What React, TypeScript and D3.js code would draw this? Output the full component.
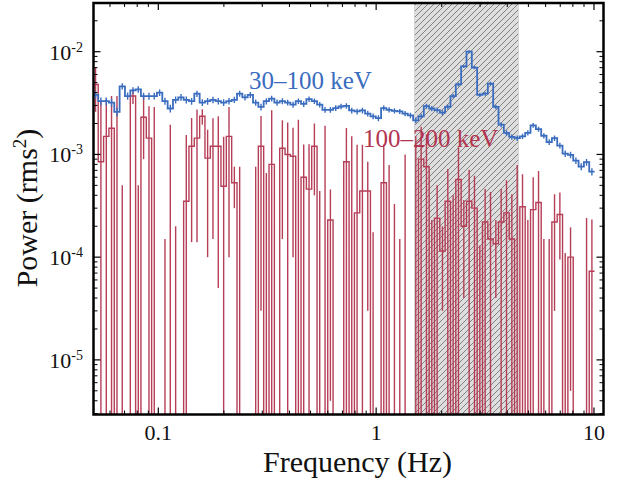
import React from 'react';
import * as d3 from 'd3';

// Frequency bin centres (Hz)
const freq = [
  0.0515, 0.0545, 0.0577, 0.0610, 0.0646, 0.0683, 0.0723, 0.0765, 0.0809, 0.0856,
  0.0906, 0.0958, 0.1014, 0.1073, 0.1135, 0.1201, 0.1271, 0.1344, 0.1422, 0.1505,
  0.1592, 0.1684, 0.1782, 0.1885, 0.1995, 0.2111, 0.2234, 0.2363, 0.2500, 0.2645,
  0.2799, 0.2961, 0.3133, 0.3315, 0.3508, 0.3711, 0.3926, 0.4154, 0.4395, 0.4650,
  0.4920, 0.5206, 0.5508, 0.5827, 0.6166, 0.6523, 0.6902, 0.7302, 0.7727, 0.8175,
  0.8650, 0.9152, 0.9683, 1.0245, 1.0839, 1.1468, 1.2134, 1.2838, 1.3583, 1.4372,
  1.5205, 1.6088, 1.7022, 1.8009, 1.9055, 2.0160, 2.1330, 2.2569, 2.3878, 2.5264,
  2.6730, 2.8281, 2.9923, 3.1659, 3.3497, 3.5441, 3.7497, 3.9674, 4.1976, 4.4413,
  4.6989, 4.9717, 5.2602, 5.5654, 5.8884, 6.2301, 6.5917, 6.9743, 7.3790, 7.8073,
  8.2604, 8.7398, 9.2470, 9.7837,
];

// 30–100 keV power (units of 1e-3 rms^2)
const blue = [
  3.8, 3.3, 3.3, 3.2, 2.6, 4.6, 3.7, 4.2, 4.3, 3.7,
  3.7, 3.7, 4.0, 3.3, 2.8, 3.4, 3.6, 3.4, 3.3, 3.9,
  3.2, 3.3, 3.4, 3.3, 3.2, 3.3, 3.4, 3.9, 3.6, 3.8,
  3.2, 2.9, 3.3, 3.5, 3.2, 3.3, 3.2, 3.05, 3.3, 3.1,
  3.45, 3.3, 3.05, 2.72, 2.72, 2.83, 2.93, 2.97, 2.68, 2.62,
  2.68, 2.5, 2.35, 2.26, 2.83, 2.72, 2.66, 2.62, 2.5, 2.4,
  2.15, 2.35, 2.95, 2.8, 2.7, 2.55, 2.9, 3.7, 4.8, 7.2,
  10.0, 7.0, 3.8, 3.9, 4.9, 2.9, 1.95, 1.62, 1.48, 1.44,
  1.5, 1.62, 1.92, 1.76, 1.52, 1.32, 1.44, 1.22, 1.02, 0.99,
  0.87, 0.76, 0.84, 0.68,
];

// 30–100 keV errors (units of 1e-4)
const blueErr = [
  3.0, 2.8, 2.8, 2.8, 2.6, 3.2, 3.0, 3.1, 3.1, 2.9,
  2.9, 2.8, 2.9, 2.6, 2.4, 2.6, 2.7, 2.6, 2.5, 2.7,
  2.4, 2.5, 2.5, 2.4, 2.4, 2.4, 2.4, 2.6, 2.5, 2.5,
  2.3, 2.2, 2.3, 2.3, 2.2, 2.2, 2.1, 2.0, 2.1, 2.0,
  2.1, 2.0, 1.9, 1.8, 1.8, 1.8, 1.8, 1.8, 1.7, 1.7,
  1.7, 1.6, 1.5, 1.5, 1.7, 1.6, 1.6, 1.5, 1.5, 1.5,
  1.4, 1.4, 1.6, 1.6, 1.6, 1.5, 1.6, 1.8, 2.1, 2.6,
  3.2, 2.5, 1.8, 1.8, 2.0, 1.5, 1.1, 1.0, 0.9, 0.9,
  0.9, 0.95, 1.0, 0.95, 0.9, 0.85, 0.85, 0.8, 0.75, 0.7,
  0.65, 0.6, 0.62, 0.55,
];

// 100–200 keV power (units of 1e-4 rms^2, may be negative)
const red = [
  48, 8.5, 15, 18, -4, -12, -20, 37, -15, 23,
  14.4, -6, -30, -20, -10, -25, -15, 3.5, 12, 14.4,
  23.5, 9.2, 12, 12, 4.9, 15, 5.3, -10, -20, -8,
  -12, 12, -10, 8, -20, 11.5, 10, 9.6, -10, 6,
  4.6, 12, -6, -8, 2.3, -20, -5, 8.5, -5, 2.7,
  4.4, 4.4, -15, -20, 5.3, -8, -10, -15, -10, -5,
  -5, 9, 7.6, -3, 2.4, 1.15, 3.5, -2, 5.7, 2.0,
  3.5, 3.0, -3, 2.2, 1.5, 1.35, 2.2, 2.7, 1.5, -1,
  3.1, -1, 2.9, 3.4, -3, -2, 2.2, 2.6, -3, 1.0,
  -4, -3, -1, 0.73,
];

// 100–200 keV errors (units of 1e-4)
const redErr = [
  22, 24, 20, 19, 41, 17, 10, 6, 20, 14,
  15, 35, 10, 21.5, 29.4, 27, 10, 12, 10.6, 13,
  4, 8.2, 10.5, 11.5, 10, 14, 2.3, 17.6, 5, 5,
  19.6, 11.7, 16.6, 19, 5, 10, 10.5, 8.6, 31.8, 6.5,
  8, 8, 10.4, 27, 2.26, 5, 5, 9.6, 20, 9.7,
  8, 4.1, 16.75, 5, 7.2, 15.9, 13.3, 16.5, 20, 5,
  20, 9.6, 8, 5.3, 2.6, 0.85, 3.7, 6, 5.9, 1.6,
  3.6, 3.2, 4.3, 2.4, 2.8, 0.95, 2.4, 2.9, 2.6, 8.9,
  3.3, 3.3, 3.1, 3.5, 4.5, 3.5, 1.9, 1.65, 4.1, 0.95,
  2, 2, 3.4, 1.6,
];

const band = [1.5, 4.5];
const xTickLabels = ['0.1', '1', '10'];
const yTickExps = ['-2', '-3', '-4', '-5'];

const W = 618, H = 478;
const L = 93.5, R = 603.5, T = 3, B = 414.5;
const FONT = '"Liberation Serif", "Times New Roman", serif';
const BLUE = '#3a6cc0';
const RED = '#b3344f';

function edgesOf(c: number[]) {
  const n = c.length;
  const e: number[] = [];
  e.push(c[0] / Math.sqrt(c[1] / c[0]));
  for (let i = 1; i < n; i++) e.push(Math.sqrt(c[i - 1] * c[i]));
  e.push(c[n - 1] * Math.sqrt(c[n - 1] / c[n - 2]));
  return e;
}

export default function App() {
  const x = d3.scaleLog().domain([0.0504, 11.06]).range([L, R]);
  const y = d3.scaleLog().domain([2.94e-6, 0.0298]).range([B, T]);
  const edges = edgesOf(freq);
  const off = B + 60;
  const yy = (v: number) => (v > 0 ? y(v) : off);

  const stepPath = (vals: number[]) => {
    let d = `M${x(edges[0])},${yy(vals[0])}`;
    for (let i = 0; i < vals.length; i++) {
      d += `H${x(edges[i + 1])}`;
      if (i < vals.length - 1) d += `V${yy(vals[i + 1])}`;
    }
    return d;
  };

  const blueV = blue.map((v) => v * 1e-3);
  const blueE = blueErr.map((v) => v * 1e-4);
  const redV = red.map((v) => v * 1e-4);
  const redE = redErr.map((v) => v * 1e-4);

  const xt = x.ticks();
  const xMajor = [0.1, 1, 10];
  const xMinor = xt.filter((t) => !xMajor.some((m) => Math.abs(m - t) < 1e-9));
  const yt = y.ticks();
  const yMajor = [1e-2, 1e-3, 1e-4, 1e-5];
  const yMinor = yt.filter((t) => !yMajor.some((m) => Math.abs(m - t) / m < 1e-6));

  return (
    <svg width={W} height={H} style={{ position: 'absolute', left: 0, top: 0, background: '#fff' }}
      fontFamily={FONT}>
      <defs>
        <clipPath id="plot">
          <rect x={L} y={T} width={R - L} height={B - T} />
        </clipPath>
        <pattern id="hatch" patternUnits="userSpaceOnUse" width={6} height={6}>
          <rect width={6} height={6} fill="#dedede" />
          <path d="M-1,1 l2,-2 M0,6 l6,-6 M5,7 l2,-2" stroke="#6a6a6a" strokeWidth={0.8} />
        </pattern>
      </defs>
      <rect x={0} y={0} width={W} height={H} fill="#fff" />
      <rect x={x(band[0])} y={T} width={x(band[1]) - x(band[0])} height={B - T}
        fill="url(#hatch)" stroke="#cfcfcf" strokeWidth={0.8} />

      <g clipPath="url(#plot)">
        <g stroke={RED} strokeWidth={1.4} fill="none" opacity={0.95}>
          <path d={stepPath(redV)} />
          {redV.map((v, i) => {
            const hi = v + redE[i];
            if (hi <= 0) return null;
            const lo = v - redE[i];
            const cx = x(freq[i]);
            return <line key={i} x1={cx} x2={cx} y1={yy(lo)} y2={y(hi)} />;
          })}
        </g>
        <g stroke={BLUE} strokeWidth={1.8} fill="none">
          <path d={stepPath(blueV)} />
          {blueV.map((v, i) => {
            const cx = x(freq[i]);
            return <line key={i} x1={cx} x2={cx} y1={y(v - blueE[i])} y2={y(v + blueE[i])} strokeWidth={1.4} />;
          })}
        </g>
      </g>

      {/* ticks */}
      <g stroke="#000">
        {xMajor.map((t) => (
          <g key={'xM' + t} strokeWidth={1.2}>
            <line x1={x(t)} x2={x(t)} y1={B} y2={B - 7} />
            <line x1={x(t)} x2={x(t)} y1={T} y2={T + 7} />
          </g>
        ))}
        {xMinor.map((t) => (
          <g key={'xm' + t} strokeWidth={1}>
            <line x1={x(t)} x2={x(t)} y1={B} y2={B - 4} />
            <line x1={x(t)} x2={x(t)} y1={T} y2={T + 4} />
          </g>
        ))}
        {yMajor.map((t) => (
          <g key={'yM' + t} strokeWidth={1.2}>
            <line x1={L} x2={L + 7} y1={y(t)} y2={y(t)} />
            <line x1={R} x2={R - 7} y1={y(t)} y2={y(t)} />
          </g>
        ))}
        {yMinor.map((t) => (
          <g key={'ym' + t} strokeWidth={1}>
            <line x1={L} x2={L + 4} y1={y(t)} y2={y(t)} />
            <line x1={R} x2={R - 4} y1={y(t)} y2={y(t)} />
          </g>
        ))}
      </g>
      <rect x={L} y={T} width={R - L} height={B - T} fill="none" stroke="#000" strokeWidth={2.5} />

      {/* tick labels */}
      {xMajor.map((t, i) => (
        <text key={'xl' + t} x={x(t)} y={440} fontSize={22} textAnchor="middle" fill="#111">
          {xTickLabels[i]}
        </text>
      ))}
      {yMajor.map((t, i) => (
        <text key={'yl' + t} x={83} y={y(t) + 8} fontSize={22} textAnchor="end" fill="#111">
          10<tspan dy={-8} fontSize={14}>{yTickExps[i]}</tspan>
        </text>
      ))}

      {/* axis labels */}
      <text x={263} y={471.5} fontSize={30} fill="#111">Frequency (Hz)</text>
      <text transform={`translate(37,208) rotate(-90)`} fontSize={30} textAnchor="middle" fill="#111">
        Power (rms<tspan dy={-11} fontSize={19}>2</tspan><tspan dy={11}>)</tspan>
      </text>

      {/* series labels */}
      <text x={249} y={88.5} fontSize={25} fill={BLUE}>30–100 keV</text>
      <text x={363} y={147} fontSize={25} fill={RED}>100–200 keV</text>
    </svg>
  );
}
